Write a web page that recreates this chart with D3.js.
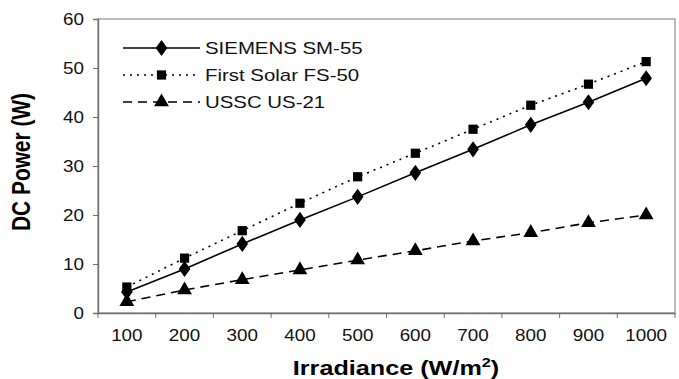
<!DOCTYPE html>
<html>
<head>
<meta charset="utf-8">
<script src="https://cdn.jsdelivr.net/npm/d3@7"></script>
<style>
  body { margin: 0; background: #fff; }
  text { font-family: "Liberation Sans", Arial, sans-serif; }
</style>
</head>
<body>
<svg id="chart" width="679" height="379"></svg>
<script>
var irradiance = ['100', '200', '300', '400', '500', '600', '700', '800', '900', '1000']
var siemens = [4.3, 9.0, 14.1, 19.0, 23.7, 28.6, 33.4, 38.4, 43.0, 47.9]
var firstSolar = [5.3, 11.2, 16.8, 22.4, 27.8, 32.6, 37.5, 42.4, 46.7, 51.3]
var ussc = [2.3, 4.7, 6.8, 8.8, 10.8, 12.7, 14.7, 16.4, 18.4, 20.0]
var yTicks = [0, 10, 20, 30, 40, 50, 60]

var seriesNames = ['SIEMENS SM-55', 'First Solar FS-50', 'USSC US-21']

// the picture is a bit wider than tall, text gets stretched sideways
var stretch = 1.2

var svg = d3.select('#chart')
var margin = {top: 19, right: 4, bottom: 66, left: 98}
var width = 679 - margin.left - margin.right
var height = 379 - margin.top - margin.bottom

var g = svg.append('g').attr('transform', 'translate(' + margin.left + ',' + margin.top + ')')

var x = d3.scaleBand().domain(irradiance).range([0, width])
var y = d3.scaleLinear().domain([0, 60]).range([height, 0])

function widen(sel){
  sel.each(function(){
    var len = this.getComputedTextLength()
    d3.select(this).attr('textLength', len * stretch).attr('lengthAdjust', 'spacingAndGlyphs')
  })
}

// plot frame
g.append('rect')
  .attr('width', width).attr('height', height)
  .style('fill', 'none').style('stroke', '#999').style('stroke-width', 1.3)

// y axis
var yAxis = g.append('g')
  .call(d3.axisLeft(y).tickValues(yTicks).tickSize(5).tickPadding(9))
yAxis.select('.domain').style('stroke', '#707070').style('stroke-width', 1.4)
yAxis.selectAll('line').style('stroke', '#707070')
yAxis.selectAll('text').style('font-size', '15.7px').style('fill', '#111').call(widen)

// x axis, ticks between categories
var xAxis = g.append('g').attr('transform', 'translate(0,' + height + ')')
  .call(d3.axisBottom(x).tickSize(0).tickPadding(17))
xAxis.select('.domain').style('stroke', '#707070').style('stroke-width', 1.4)
xAxis.selectAll('text').style('font-size', '15.7px').style('fill', '#111').call(widen)
xAxis.selectAll('.sep')
  .data(d3.range(irradiance.length + 1)).enter()
  .append('line')
  .attr('class', 'sep')
  .attr('x1', function(d){ return d * x.step() })
  .attr('x2', function(d){ return d * x.step() })
  .attr('y1', 0).attr('y2', 5)
  .style('stroke', '#707070')

// axis titles
svg.append('text')
  .attr('transform', 'translate(30,' + (margin.top + height / 2 - 4) + ') scale(' + stretch + ',1) rotate(-90)')
  .attr('text-anchor', 'middle')
  .attr('textLength', 138).attr('lengthAdjust', 'spacingAndGlyphs')
  .style('font-size', '21px').style('font-weight', 'bold')
  .text('DC Power (W)')

var xt = svg.append('text')
  .attr('transform', 'translate(396,375) scale(' + stretch + ',1)')
  .attr('text-anchor', 'middle')
  .style('font-size', '21px').style('font-weight', 'bold')
xt.append('tspan').text('Irradiance (W/m')
xt.append('tspan').attr('dy', -8).style('font-size', '13.5px').text('2')
xt.append('tspan').attr('dy', 8).text(')')

var dashes = ['none', '2,5', '9,6']
var symbols = [d3.symbolDiamond, d3.symbolSquare, d3.symbolTriangle]
var symSizes = [75, 85, 95]
var allData = [siemens, firstSolar, ussc]

var line = d3.line()
  .x(function(d, i){ return x(irradiance[i]) + x.bandwidth() / 2 })
  .y(function(d){ return y(d) })

allData.forEach(function(values, s){
  g.append('path')
    .datum(values)
    .attr('d', line)
    .style('fill', 'none')
    .style('stroke', '#000')
    .style('stroke-width', 1.6)
    .style('stroke-dasharray', dashes[s])

  g.selectAll('.pt' + s)
    .data(values).enter()
    .append('path')
    .attr('class', 'pt' + s)
    .attr('d', d3.symbol().type(symbols[s]).size(symSizes[s]))
    .attr('transform', function(d, i){
      var sx = s == 0 ? 'scale(1.25,1)' : ''
      return 'translate(' + (x(irradiance[i]) + x.bandwidth() / 2) + ',' + y(d) + ')' + sx
    })
    .style('fill', '#000')
})

// legend
var legend = svg.append('g').attr('transform', 'translate(123,48)')
seriesNames.forEach(function(name, s){
  var row = legend.append('g').attr('transform', 'translate(0,' + (s * 27) + ')')
  row.append('line')
    .attr('x1', 0).attr('x2', 77).attr('y1', 0).attr('y2', 0)
    .style('stroke', '#000').style('stroke-width', 1.6)
    .style('stroke-dasharray', dashes[s])
  row.append('path')
    .attr('d', d3.symbol().type(symbols[s]).size(symSizes[s]))
    .attr('transform', 'translate(38.5,0)' + (s == 0 ? 'scale(1.25,1)' : ''))
    .style('fill', '#000')
  row.append('text')
    .attr('x', 82).attr('y', 6)
    .style('font-size', '17px').style('fill', '#111')
    .text(name)
    .call(widen)
})
</script>
</body>
</html>
